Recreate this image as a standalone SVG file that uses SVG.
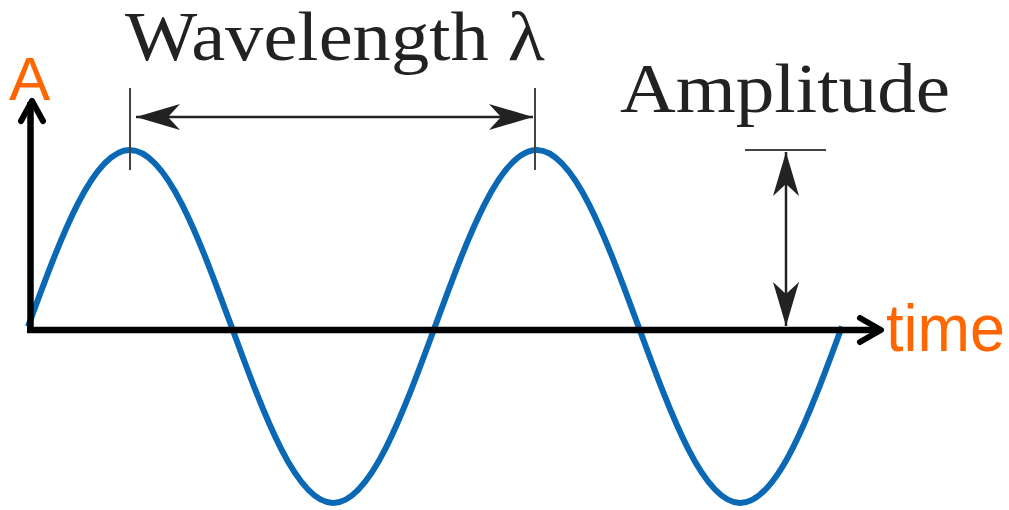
<svg xmlns="http://www.w3.org/2000/svg" width="1009" height="510" viewBox="0 0 1009 510">
<defs>
<style>
.lbl{font-family:"Liberation Serif","DejaVu Serif",serif;fill:#222;}
.ax{font-family:"Liberation Sans",Arial,sans-serif;fill:#ff6600;}
.dim{stroke:#222;stroke-width:2.5;fill:none;}
.tick{stroke:#444;stroke-width:2;fill:none;}
.axis{stroke:#000;stroke-width:6.5;fill:none;}
.chev{stroke:#000;stroke-width:6;fill:none;stroke-linecap:round;stroke-linejoin:round;}
</style>
<marker id="dh" markerUnits="userSpaceOnUse" viewBox="-46 -15 48 30" refX="0" refY="0" markerWidth="48" markerHeight="30" orient="auto-start-reverse">
<path d="M0,0 L-44,-13 L-32,0 L-44,13 Z" fill="#222"/>
</marker>
</defs>
<rect width="1009" height="510" fill="#fff"/>
<g id="wave">
<path d="M28,326.5 c33.19,-90.42 64.93,-176.5 101.75,-176.5 c36.82,0 68.56,86.08 101.75,176.5 c33.19,90.42 64.93,176.5 101.75,176.5 c36.82,0 68.56,-86.08 101.75,-176.5 c33.19,-90.42 64.93,-176.5 101.75,-176.5 c36.82,0 68.56,86.08 101.75,176.5 c33.19,90.42 64.93,176.5 101.75,176.5 c36.82,0 68.56,-86.08 101.75,-176.5" fill="none" stroke="#0a68b4" stroke-width="6"/>
</g>
<g id="connectors">
<line class="tick" x1="130" y1="88" x2="130" y2="170"/>
<line class="tick" x1="535" y1="88" x2="535" y2="170"/>
<line class="dim" x1="136" y1="117" x2="533" y2="117" marker-start="url(#dh)" marker-end="url(#dh)"/>
<line class="tick" x1="745" y1="150" x2="826" y2="150"/>
<line class="dim" x1="786" y1="152" x2="786" y2="326" marker-start="url(#dh)" marker-end="url(#dh)"/>
</g>
<g id="axes">
<line class="axis" x1="30.5" y1="333" x2="30.5" y2="102"/>
<line class="axis" x1="27" y1="330" x2="880" y2="330"/>
<polyline class="chev" points="21,121 32,101 43,121"/>
<polyline class="chev" points="860,318 881,330 860,342"/>
</g>
<g id="labels">
<text class="lbl" x="125" y="60" font-size="70" textLength="420" lengthAdjust="spacingAndGlyphs">Wavelength λ</text>
<text class="lbl" x="620" y="112" font-size="70" textLength="330" lengthAdjust="spacingAndGlyphs">Amplitude</text>
<text class="ax" x="9" y="100" font-size="62">A</text>
<text class="ax" x="886" y="351" font-size="66" textLength="119" lengthAdjust="spacingAndGlyphs">time</text>
</g>
</svg>
